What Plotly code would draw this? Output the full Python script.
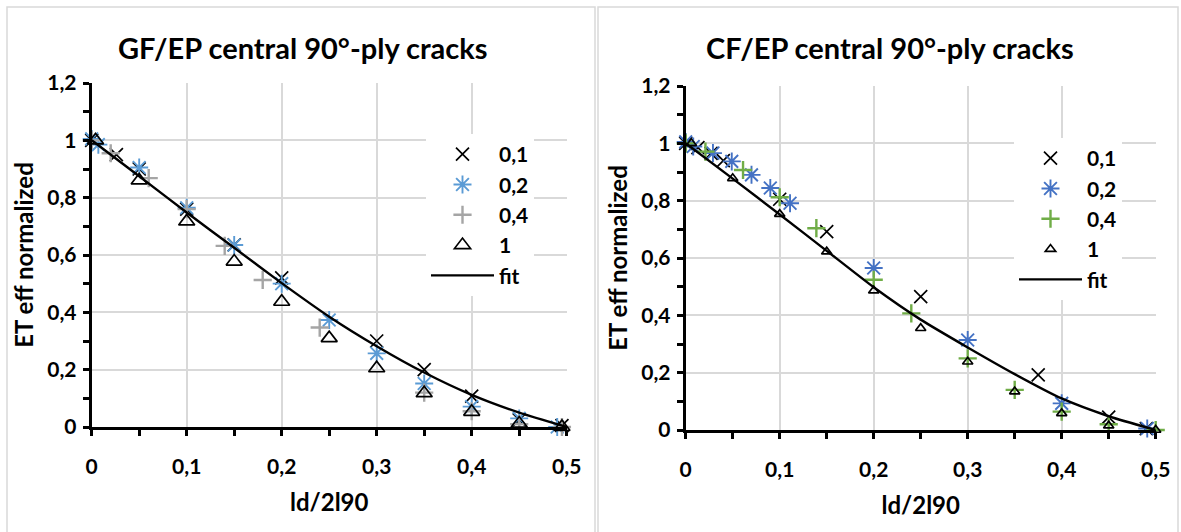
import plotly.graph_objects as go

W, H = 1181, 532

# ---------------- data: GF/EP (left) ----------------
gf_x01 = [0, 0.026, 0.05, 0.1, 0.15, 0.2, 0.3, 0.35, 0.4, 0.45, 0.495]
gf_y01 = [1.0, 0.95, 0.9, 0.76, 0.635, 0.52, 0.30, 0.2, 0.108, 0.025, 0.005]
gf_x02 = [0, 0.007, 0.05, 0.1, 0.15, 0.2, 0.25, 0.3, 0.35, 0.4, 0.45, 0.49]
gf_y02 = [1.005, 0.985, 0.905, 0.765, 0.635, 0.5, 0.373, 0.257, 0.152, 0.071, 0.03, 0.0]
gf_x04 = [0, 0.02, 0.06, 0.1, 0.14, 0.18, 0.24, 0.35, 0.4, 0.45, 0.495]
gf_y04 = [1.0, 0.955, 0.868, 0.76, 0.632, 0.513, 0.347, 0.12, 0.055, 0.01, 0.0]
gf_x1 = [0.004, 0.05, 0.1, 0.15, 0.2, 0.25, 0.3, 0.35, 0.4, 0.45, 0.495]
gf_y1 = [1.0, 0.86, 0.717, 0.577, 0.437, 0.31, 0.205, 0.118, 0.053, 0.012, 0.0]
gf_fit_x = [0, 0.05, 0.1, 0.15, 0.2, 0.25, 0.3, 0.35, 0.4, 0.45, 0.5]
gf_fit_y = [1.0, 0.875, 0.748, 0.625, 0.502, 0.385, 0.282, 0.19, 0.112, 0.05, 0.0]

# ---------------- data: CF/EP (right) ----------------
cf_x01 = [0, 0.013, 0.027, 0.04, 0.1, 0.15, 0.25, 0.375, 0.45, 0.49]
cf_y01 = [1.0, 0.985, 0.965, 0.94, 0.805, 0.692, 0.465, 0.192, 0.045, 0.005]
cf_x02 = [0, 0.008, 0.029, 0.049, 0.07, 0.09, 0.111, 0.2, 0.3, 0.4, 0.491]
cf_y02 = [1.005, 0.989, 0.966, 0.937, 0.89, 0.844, 0.791, 0.565, 0.314, 0.093, 0.005]
cf_x04 = [0, 0.021, 0.061, 0.1, 0.139, 0.2, 0.24, 0.3, 0.35, 0.4, 0.45, 0.5]
cf_y04 = [1.0, 0.971, 0.907, 0.812, 0.704, 0.524, 0.407, 0.25, 0.14, 0.064, 0.02, 0.0]
cf_x1 = [0.006, 0.05, 0.1, 0.15, 0.2, 0.25, 0.3, 0.35, 0.4, 0.45, 0.5]
cf_y1 = [1.0, 0.878, 0.753, 0.622, 0.486, 0.355, 0.238, 0.134, 0.058, 0.015, 0.0]
cf_fit_x = [0, 0.05, 0.1, 0.15, 0.2, 0.25, 0.3, 0.35, 0.4, 0.45, 0.5]
cf_fit_y = [1.0, 0.877, 0.752, 0.625, 0.498, 0.385, 0.288, 0.195, 0.11, 0.048, 0.0]

series_names = ["0,1", "0,2", "0,4", "1", "fit"]
titles = ["GF/EP central 90°-ply cracks", "CF/EP central 90°-ply cracks"]
x_title = "ld/2l90"
y_title = "ET eff normalized"

FONT = "Lato"
fig = go.Figure()

def add_panel(xa, ya, leg, data, colors, tri_size):
    (x01, y01, x02, y02, x04, y04, x1, y1, fx, fy) = data
    common = dict(xaxis=xa, yaxis=ya, legend=leg, mode="markers", cliponaxis=False)
    fig.add_trace(go.Scatter(x=x01, y=y01, name=series_names[0],
                             marker=dict(symbol="x-thin-open", size=13, color="black",
                                         line=dict(width=1.7, color="black")), **common))
    fig.add_trace(go.Scatter(x=x02, y=y02, name=series_names[1],
                             marker=dict(symbol="asterisk-open", size=15, color=colors[0],
                                         line=dict(width=1.9, color=colors[0])), **common))
    fig.add_trace(go.Scatter(x=x04, y=y04, name=series_names[2],
                             marker=dict(symbol="cross-thin-open", size=13, color=colors[1],
                                         line=dict(width=2.4, color=colors[1])), **common))
    fig.add_trace(go.Scatter(x=x1, y=y1, name=series_names[3],
                             marker=dict(symbol="triangle-up-open", size=tri_size, color="black",
                                         line=dict(width=1.7, color="black")), **common))
    fig.add_trace(go.Scatter(x=fx, y=fy, name=series_names[4],
                             xaxis=xa, yaxis=ya, legend=leg, mode="lines",
                             line=dict(color="black", width=2.4, shape="spline", smoothing=0.6)))

add_panel("x", "y", "legend",
          (gf_x01, gf_y01, gf_x02, gf_y02, gf_x04, gf_y04, gf_x1, gf_y1, gf_fit_x, gf_fit_y),
          ["#5B9BD5", "#A5A5A5"], 14)
add_panel("x2", "y2", "legend2",
          (cf_x01, cf_y01, cf_x02, cf_y02, cf_x04, cf_y04, cf_x1, cf_y1, cf_fit_x, cf_fit_y),
          ["#4472C4", "#70AD47"], 9)

def px_x(p):
    return p / W

def px_y(p):
    return 1 - p / H

tickfont = dict(family=FONT, size=21, color="black", weight="bold")
titlefont = dict(family=FONT, size=24, color="black", weight="bold")

def xaxis(dom, anchor):
    return dict(domain=dom, anchor=anchor, range=[0, 0.5], dtick=0.1, tick0=0,
                showgrid=True, gridcolor="#d9d9d9", gridwidth=1.5,
                showline=True, linecolor="black", linewidth=3, zeroline=False,
                ticks="outside", ticklen=6, tickwidth=3, tickcolor="black",
                minor=dict(dtick=0.05, ticks="outside", ticklen=6, tickwidth=3,
                           tickcolor="black", showgrid=False),
                tickfont=tickfont, ticklabelstandoff=13,
                title=dict(text=x_title, font=titlefont, standoff=17))

def yaxis(dom, anchor):
    return dict(domain=dom, anchor=anchor, range=[0, 1.2], dtick=0.2, tick0=0,
                showgrid=True, gridcolor="#d9d9d9", gridwidth=1.5,
                showline=True, linecolor="black", linewidth=3, zeroline=False,
                ticks="outside", ticklen=6, tickwidth=3, tickcolor="black",
                minor=dict(dtick=0.1, ticks="outside", ticklen=6, tickwidth=3,
                           tickcolor="black", showgrid=False),
                tickfont=tickfont, ticklabelstandoff=2,
                title=dict(text=y_title, font=titlefont, standoff=7))

legfont = dict(family=FONT, size=21, color="black", weight="bold")

fig.update_layout(
    width=W, height=H,
    margin=dict(l=0, r=0, t=0, b=0, autoexpand=False),
    paper_bgcolor="white", plot_bgcolor="white",
    separators=",.",
    showlegend=True,
    xaxis=xaxis([px_x(91.7), px_x(566.7)], "y"),
    yaxis=yaxis([px_y(427), px_y(83)], "x"),
    xaxis2=xaxis([px_x(685.7), px_x(1155.7)], "y2"),
    yaxis2=yaxis([px_y(430), px_y(86)], "x2"),
    legend=dict(x=px_x(426), y=px_y(134), xanchor="left", yanchor="top",
                bgcolor="white", font=legfont, tracegroupgap=0, itemwidth=63),
    legend2=dict(x=px_x(1014), y=px_y(138), xanchor="left", yanchor="top",
                 bgcolor="white", font=legfont, tracegroupgap=0, itemwidth=63),
    annotations=[
        dict(text=titles[0], x=px_x(303), y=px_y(47), xref="paper", yref="paper",
             xanchor="center", yanchor="middle", showarrow=False,
             font=dict(family=FONT, size=29, color="black", weight="bold")),
        dict(text=titles[1], x=px_x(890), y=px_y(47), xref="paper", yref="paper",
             xanchor="center", yanchor="middle", showarrow=False,
             font=dict(family=FONT, size=29, color="black", weight="bold")),
    ],
    shapes=[
        dict(type="rect", xref="paper", yref="paper", x0=px_x(7), x1=px_x(595),
             y0=px_y(560), y1=px_y(7), line=dict(color="#d9d9d9", width=1.5), layer="below"),
        dict(type="rect", xref="paper", yref="paper", x0=px_x(598), x1=px_x(1178),
             y0=px_y(560), y1=px_y(7), line=dict(color="#d9d9d9", width=1.5), layer="below"),
    ],
)

fig.write_html("out.html", config={"displayModeBar": False},
               post_script="document.body.style.margin='0';document.body.style.padding='0';")
